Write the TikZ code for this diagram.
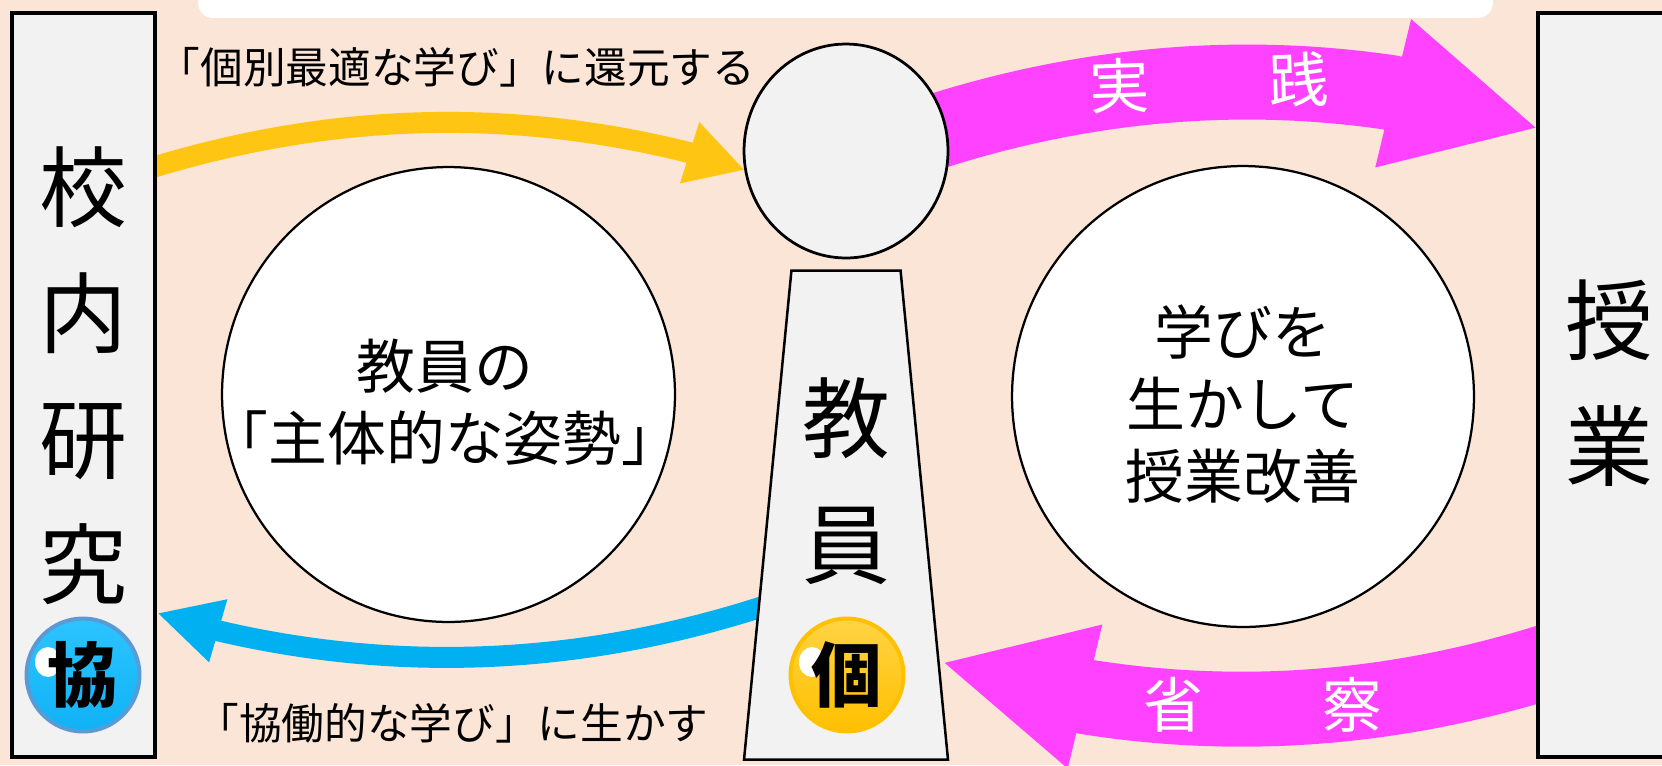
\documentclass[tikz,border=0pt]{standalone}
\usepackage{fontspec}
\setmainfont{Noto Sans CJK JP}
\usetikzlibrary{positioning}
\usetikzlibrary{shapes.geometric}
\usetikzlibrary{backgrounds}
\usetikzlibrary{arrows.meta}
\definecolor{peach}{HTML}{FBE5D6}
\definecolor{panelgray}{HTML}{F2F2F2}
\definecolor{jissenpink}{HTML}{FF42FF}
\definecolor{kangenyellow}{HTML}{FFC513}
\definecolor{ikasublue}{HTML}{00B0F0}
\definecolor{orbblue}{HTML}{5B9BD5}
\definecolor{orbcyan}{HTML}{2CC4FF}
\definecolor{orbsky}{HTML}{10B2F6}
\definecolor{orbgold}{HTML}{FFC000}
\definecolor{orblight}{HTML}{FFD344}

\begin{document}
\begin{tikzpicture}[x=0.02cm, y=-0.02cm,
    panel/.style={draw=black, line width=0.08cm, fill=panelgray, rectangle, inner sep=0pt, minimum width=2.86cm, minimum height=14.9cm},
    tall/.style={inner sep=0pt, align=center, font=\fontsize{50}{71.5}\selectfont},
    ring/.style={draw=black, line width=0.045cm, fill=white, ellipse, inner sep=0pt},
    ringtext/.style={inner sep=0pt, align=center, font=\fontsize{33.5}{41}\selectfont},
    caption/.style={inner sep=0pt, font=\fontsize{24.3}{28}\selectfont},
    onarrow/.style={inner sep=0pt, text=white, font=\fontsize{34}{40}\selectfont},
    orb/.style={circle, inner sep=0pt, minimum size=2.26cm, line width=0.08cm, font=\fontsize{40}{42}\selectfont\bfseries,
        path picture={\fill[white] (path picture bounding box.center) ++(-35,-13) ellipse [x radius=13, y radius=15];}},
    broad/.style={line width=1.5cm, jissenpink, -{Triangle[length=85.4pt, width=80pt]}},
    slim/.style={line width=0.42cm, -{Triangle[length=33pt, width=34pt]}}]
    \useasboundingbox (0,0) rectangle (1662,765);
    \node[fill=white, rounded corners=0.3cm, minimum width=25.9cm, minimum height=1.4cm, inner sep=0pt] (bar) at (845.5,-17) {};

    \node[panel] (kounai) at (83.5,385) {};
    \node[panel] (jugyou) at (1609,385) {};
    \node[tall] (kounaitext) at (83.5,376) {校\\内\\研\\究};
    \node[tall] (jugyoutext) at (1609,383) {授\\業};
    \node[draw=black, line width=0.055cm, fill=panelgray, ellipse, inner sep=0pt, minimum width=4.08cm, minimum height=4.28cm] (head) at (846,151) {};
    \node[draw=black, line width=0.05cm, fill=panelgray, trapezium, trapezium left angle=64.8, trapezium right angle=64.8, trapezium stretches=true, inner sep=0pt, minimum width=4.08cm, minimum height=9.78cm, below=0.2cm of head] (kyouin) {\phantom{教}};
    \node[tall] (kyouintext) at (846,481) {教\\員};

    \node[ring, minimum width=9.06cm, minimum height=9.1cm] (shutai) at (448.5,394.5) {};
    \node[ring, minimum width=9.24cm, minimum height=9.22cm] (kaizen) at (1243,396.5) {};
    \node[ringtext] (shutaitext) at (445,402) {教員の\\「主体的な姿勢」};
    \node[ringtext] (kaizentext) at (1243,404) {学びを\\生かして\\授業改善};

    \node[orb, draw=orbblue, top color=orbcyan, bottom color=orbsky] (kyou) at (83,675) {協};
    \node[orb, draw=orbgold, top color=orblight, bottom color=orbgold] (ko) at (847,675) {個};

    \node[caption] (kangen) at (456.5,67) {「個別最適な学び」に還元する};
    \node[caption] (ikasu) at (452.5,723) {「協働的な学び」に生かす};
    \node[onarrow, rotate=2] (jissen) at (1209,83) {実　　践};
    \node[onarrow] (seisatsu) at (1263,705) {省　　察};

    \coordinate (jissentail) at (846,164);
    \coordinate (jissenneck) at (1390,92.5);
    \coordinate (jissentip) at (1539,128.5);
    \coordinate (seisatsutail) at (1600,644);
    \coordinate (seisatsuneck) at (1087,697);
    \coordinate (seisatsutip) at (941,662);
    \coordinate (kangentail) at (120,178);
    \coordinate (kangenneck) at (689,152.5);
    \coordinate (kangentip) at (745,170);
    \coordinate (ikasutail) at (820,586.5);
    \coordinate (ikasuneck) at (219,631);
    \coordinate (ikasutip) at (157,613);

    \begin{scope}[on background layer]
        \fill[peach] (0,0) rectangle (1662,765);
        \draw[slim, kangenyellow] (kangentail) .. controls (310,113.6) and (499,105.2) .. (kangenneck) -- (kangentip);
        \draw[broad] (jissentail) .. controls (1027,90) and (1209,66) .. (jissenneck) -- (jissentip);
        \draw[slim, ikasublue, -{Triangle[length=36.3pt, width=34.5pt]}] (ikasutail) .. controls (620,662.5) and (419,677.5) .. (ikasuneck) -- (ikasutip);
        \draw[broad, -{Triangle[length=84.3pt, width=77.5pt]}] (seisatsutail) .. controls (1429,706) and (1258,724) .. (seisatsuneck) -- (seisatsutip);
    \end{scope}
\end{tikzpicture}
\end{document}
